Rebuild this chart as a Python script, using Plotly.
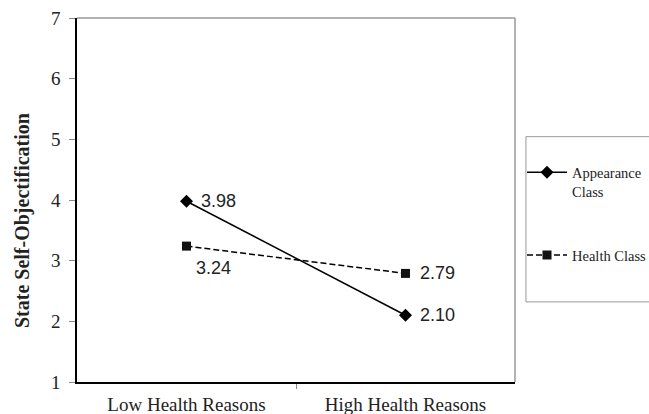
import plotly.graph_objects as go

categories = ["Low Health Reasons", "High Health Reasons"]
appearance = [3.98, 2.10]
health = [3.24, 2.79]
y_ticks = [1, 2, 3, 4, 5, 6, 7]
y_title = "State Self-Objectification"

x_pos = list(range(len(categories)))

fig = go.Figure()
fig.add_trace(go.Scatter(
    x=x_pos, y=appearance, name="Appearance<br>Class",
    mode="lines+markers",
    line=dict(color="black", width=1.5),
    marker=dict(symbol="diamond", size=10, color="black"),
    legendgroup="a",
))
fig.add_trace(go.Scatter(
    x=x_pos, y=health, name="Health Class",
    mode="lines+markers",
    line=dict(color="black", width=1.5, dash="6px,3px"),
    marker=dict(symbol="square", size=9, color="#111"),
    legendgroup="b",
))

label_font = dict(family="Liberation Sans, Arial", size=18, color="#222")
annotations = []
for xi, v in zip(x_pos, appearance):
    annotations.append(dict(x=xi, y=v, xref="x", yref="y", text=f"{v:.2f}",
                            showarrow=False, xanchor="left", yanchor="middle",
                            xshift=12, font=label_font))
for i, (xi, v) in enumerate(zip(x_pos, health)):
    if i == 0:
        annotations.append(dict(x=xi, y=v, xref="x", yref="y", text=f"{v:.2f}",
                                showarrow=False, xanchor="left", yanchor="middle",
                                xshift=7, yshift=-22, font=label_font))
    else:
        annotations.append(dict(x=xi, y=v, xref="x", yref="y", text=f"{v:.2f}",
                                showarrow=False, xanchor="left", yanchor="middle",
                                xshift=12, font=label_font))

annotations.append(dict(
    x=-0.1256, y=0.445, xref="paper", yref="paper", text=f"<b>{y_title}</b>",
    showarrow=False, textangle=-90, xanchor="center", yanchor="middle",
    font=dict(family="Liberation Serif, Times New Roman", size=20, color="#222"),
))

fig.update_layout(
    width=649, height=414,
    margin=dict(l=77, r=134, t=18, b=32, autoexpand=False),
    paper_bgcolor="white", plot_bgcolor="white",
    font=dict(family="Liberation Serif, Times New Roman", color="#222"),
    showlegend=True,
    legend=dict(
        x=1.016, y=0.62, xanchor="left", yanchor="top",
        borderwidth=0, bgcolor="rgba(0,0,0,0)",
        font=dict(family="Liberation Serif, Times New Roman", size=14.5, color="#222"),
        tracegroupgap=42, traceorder="grouped", valign="top",
        itemwidth=40,
    ),
    xaxis=dict(
        range=[-0.5, 1.5], tickmode="array", tickvals=x_pos, ticktext=categories,
        ticks="", showgrid=False, zeroline=False, automargin=False,
        showline=True, linecolor="black", linewidth=1.5,
        tickfont=dict(size=19), ticklabelstandoff=4,
        minor=dict(tickmode="array", tickvals=[0.5], ticks="outside", ticklen=5,
                   tickcolor="#888", tickwidth=1, showgrid=False),
    ),
    yaxis=dict(
        range=[1, 7], tickmode="array", tickvals=y_ticks,
        ticks="outside", ticklen=6, tickcolor="#888",
        showgrid=False, zeroline=False, automargin=False,
        showline=True, linecolor="black", linewidth=1.5,
        tickfont=dict(size=19), ticklabelstandoff=5,
    ),
    annotations=annotations,
    shapes=[
        dict(type="line", xref="paper", yref="paper", x0=0, x1=1, y0=1, y1=1,
             line=dict(color="#999", width=1.5)),
        dict(type="line", xref="paper", yref="paper", x0=1, x1=1, y0=0, y1=1,
             line=dict(color="#999", width=1.5)),
        dict(type="rect", xref="paper", yref="paper", x0=1.025, x1=1.31,
             y0=0.22, y1=0.674, line=dict(color="#999", width=1)),
    ],
)

fig.write_html("out.html", config={"displayModeBar": False},
               post_script="document.body.style.margin='0';")
